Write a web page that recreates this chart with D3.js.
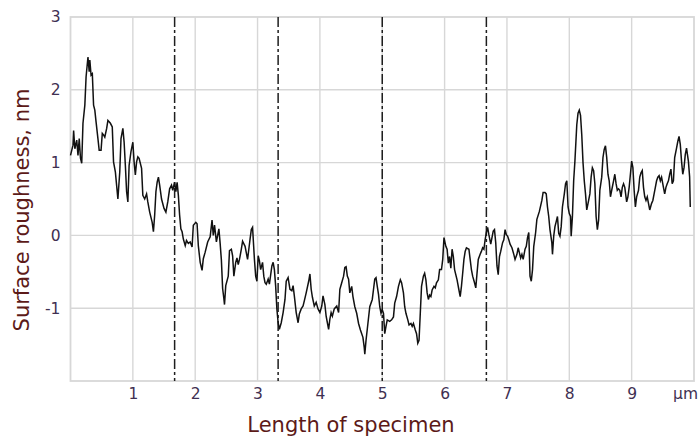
<!DOCTYPE html>
<html>
<head>
<meta charset="utf-8">
<script src="https://cdn.jsdelivr.net/npm/d3@7/dist/d3.min.js"></script>
<style>
  html, body { margin: 0; padding: 0; background: #fff; }
  svg { display: block; }
  text { font-family: "DejaVu Sans", Verdana, sans-serif; }
</style>
</head>
<body>
<svg id="chart" width="700" height="442"></svg>
<script>
// Profile position along the specimen, μm
const positions = [
  0.00,0.04,0.05,0.07,0.10,0.12,0.14,0.16,0.18,0.20,0.23,0.25,0.28,0.30,0.31,0.33,0.35,0.37,0.39,0.41,
  0.44,0.46,0.49,0.51,0.53,0.55,0.58,0.60,0.64,0.67,0.69,0.72,0.76,0.79,0.81,0.84,0.86,0.88,0.90,0.92,
  0.94,0.97,1.00,1.02,1.04,1.06,1.08,1.10,1.14,1.16,1.19,1.22,1.24,1.27,1.31,1.33,1.35,1.37,1.39,1.41,
  1.43,1.46,1.50,1.53,1.56,1.59,1.62,1.64,1.67,1.69,1.71,1.73,1.75,1.77,1.79,1.81,1.84,1.86,1.89,1.92,
  1.95,1.97,2.01,2.03,2.05,2.08,2.11,2.13,2.16,2.20,2.24,2.27,2.29,2.31,2.34,2.38,2.40,2.42,2.44,2.46,
  2.47,2.49,2.53,2.55,2.58,2.60,2.62,2.65,2.67,2.69,2.71,2.74,2.76,2.80,2.82,2.84,2.86,2.88,2.90,2.92,
  2.95,2.97,2.99,3.01,3.03,3.05,3.08,3.10,3.12,3.14,3.17,3.19,3.23,3.25,3.27,3.29,3.31,3.33,3.35,3.38,
  3.41,3.44,3.46,3.49,3.52,3.55,3.57,3.59,3.62,3.65,3.67,3.70,3.73,3.75,3.78,3.82,3.84,3.86,3.88,3.91,
  3.94,3.97,4.00,4.03,4.05,4.08,4.10,4.12,4.14,4.16,4.18,4.20,4.23,4.27,4.30,4.32,4.35,4.38,4.40,4.42,
  4.44,4.46,4.48,4.51,4.53,4.56,4.59,4.62,4.65,4.69,4.71,4.72,4.74,4.77,4.80,4.84,4.86,4.88,4.90,4.92,
  4.94,4.96,4.98,5.00,5.02,5.04,5.06,5.08,5.12,5.15,5.18,5.20,5.23,5.26,5.29,5.31,5.34,5.36,5.38,5.41,
  5.43,5.46,5.48,5.50,5.53,5.55,5.57,5.59,5.61,5.63,5.66,5.68,5.70,5.72,5.74,5.76,5.78,5.80,5.83,5.85,
  5.87,5.90,5.92,5.95,5.97,5.99,6.02,6.04,6.06,6.08,6.10,6.12,6.14,6.16,6.20,6.23,6.25,6.27,6.29,6.31,
  6.33,6.35,6.39,6.41,6.43,6.45,6.48,6.50,6.52,6.54,6.57,6.59,6.61,6.63,6.65,6.67,6.69,6.71,6.74,6.76,
  6.78,6.80,6.82,6.84,6.86,6.88,6.90,6.93,6.95,6.97,6.99,7.01,7.03,7.05,7.08,7.11,7.13,7.16,7.18,7.20,
  7.22,7.24,7.26,7.29,7.31,7.33,7.35,7.37,7.39,7.41,7.43,7.46,7.48,7.52,7.56,7.58,7.61,7.63,7.65,7.67,
  7.69,7.72,7.73,7.75,7.77,7.79,7.81,7.83,7.85,7.87,7.89,7.92,7.94,7.96,7.98,8.00,8.02,8.03,8.05,8.07,
  8.09,8.12,8.14,8.16,8.18,8.20,8.22,8.24,8.26,8.28,8.31,8.33,8.35,8.37,8.39,8.41,8.43,8.45,8.47,8.49,
  8.52,8.54,8.56,8.58,8.60,8.62,8.64,8.66,8.68,8.71,8.73,8.75,8.77,8.79,8.81,8.83,8.85,8.87,8.89,8.92,
  8.94,8.96,8.98,9.00,9.02,9.04,9.06,9.08,9.11,9.13,9.15,9.17,9.19,9.21,9.23,9.25,9.27,9.29,9.32,9.34,
  9.36,9.38,9.40,9.42,9.44,9.46,9.48,9.51,9.53,9.55,9.57,9.59,9.61,9.63,9.65,9.67,9.69,9.72,9.74,9.76,
  9.78,9.80,9.82,9.84,9.86,9.88,9.91,9.93,9.94
];

// Measured surface height at each position, nm
const roughness = [
  1.10,1.24,1.44,1.19,1.31,1.10,1.33,1.06,0.99,1.54,1.79,2.18,2.45,2.25,2.41,2.20,2.22,1.79,1.72,1.56,
  1.33,1.17,1.17,1.40,1.38,1.35,1.47,1.58,1.54,1.49,1.01,0.87,0.50,0.87,1.33,1.47,1.28,0.96,0.60,0.46,
  0.96,1.15,1.28,1.01,0.83,1.01,1.08,1.06,0.92,0.55,0.50,0.57,0.46,0.32,0.18,0.05,0.28,0.60,0.73,0.80,
  0.69,0.50,0.37,0.32,0.46,0.64,0.69,0.62,0.73,0.60,0.73,0.55,0.28,0.09,0.05,-0.05,-0.14,-0.07,-0.11,-0.09,
  -0.16,0.14,0.18,0.16,-0.14,-0.37,-0.48,-0.32,-0.23,-0.09,-0.02,0.21,0.00,0.14,-0.09,0.09,-0.11,-0.34,-0.73,-0.87,
  -0.95,-0.69,-0.56,-0.21,-0.19,-0.28,-0.56,-0.37,-0.31,-0.40,-0.33,-0.19,-0.08,-0.15,-0.24,-0.33,-0.19,-0.05,0.08,0.11,
  -0.33,-0.56,-0.63,-0.28,-0.35,-0.47,-0.37,-0.56,-0.65,-0.67,-0.60,-0.67,-0.42,-0.37,-0.47,-0.69,-1.01,-1.20,-1.29,-1.20,
  -1.06,-0.88,-0.63,-0.58,-0.74,-0.76,-0.69,-0.83,-1.06,-1.20,-1.08,-1.01,-0.97,-0.90,-0.79,-0.63,-0.53,-0.74,-0.85,-0.97,
  -0.92,-1.01,-1.06,-0.97,-0.83,-0.95,-1.11,-1.20,-1.29,-1.15,-1.06,-1.11,-1.01,-0.97,-1.06,-0.74,-0.65,-0.56,-0.44,-0.43,
  -0.56,-0.60,-0.79,-0.70,-0.84,-0.98,-1.07,-1.21,-1.30,-1.40,-1.53,-1.63,-1.44,-1.21,-0.98,-0.88,-0.74,-0.60,-0.58,-0.70,
  -0.81,-0.98,-1.07,-1.02,-1.07,-1.35,-1.25,-1.16,-1.18,-1.16,-1.12,-0.93,-0.84,-0.70,-0.61,-0.65,-0.79,-0.98,-1.07,-1.16,
  -1.23,-1.21,-1.25,-1.21,-1.30,-1.35,-1.48,-1.44,-1.07,-0.70,-0.56,-0.52,-0.61,-0.79,-0.88,-0.82,-0.84,-0.75,-0.70,-0.72,
  -0.65,-0.61,-0.47,-0.47,-0.33,-0.03,-0.15,-0.19,-0.38,-0.29,-0.45,-0.19,-0.29,-0.47,-0.61,-0.75,-0.84,-0.70,-0.52,-0.33,
  -0.22,-0.17,-0.19,-0.33,-0.47,-0.56,-0.65,-0.72,-0.52,-0.33,-0.26,-0.22,-0.17,-0.19,-0.06,0.04,0.11,0.01,-0.12,-0.03,
  0.06,0.08,-0.10,-0.42,-0.54,-0.29,-0.22,-0.10,-0.06,0.08,0.01,-0.01,-0.06,-0.12,-0.17,-0.26,-0.33,-0.26,-0.17,-0.24,
  -0.31,-0.26,-0.33,-0.19,-0.15,-0.03,0.04,-0.56,-0.63,-0.47,-0.15,0.04,0.22,0.33,0.48,0.59,0.59,0.57,0.39,0.26,
  0.08,-0.10,-0.26,-0.01,0.12,0.19,0.26,0.03,-0.01,0.12,0.39,0.57,0.71,0.75,0.39,0.30,0.26,-0.01,0.26,0.75,
  1.02,1.52,1.68,1.72,1.65,1.38,1.00,0.75,0.57,0.35,0.48,0.57,0.80,0.93,0.89,0.71,0.26,0.08,0.21,0.62,
  0.80,1.07,1.18,1.23,1.07,0.84,0.75,0.53,0.62,0.75,0.84,0.71,0.62,0.64,0.62,0.53,0.66,0.71,0.66,0.46,
  0.53,0.66,0.84,1.02,0.93,0.62,0.39,0.53,0.62,0.80,0.86,0.89,0.66,0.53,0.48,0.53,0.44,0.35,0.44,0.48,
  0.57,0.66,0.75,0.80,0.82,0.75,0.80,0.66,0.57,0.66,0.71,0.75,0.84,0.91,0.71,0.75,1.07,1.20,1.29,1.36,
  1.25,1.02,0.84,0.93,1.11,1.20,1.02,0.80,0.39
];

const xTickValues = [1, 2, 3, 4, 5, 6, 7, 8, 9];
const yTickValues = [-1, 0, 1, 2, 3];
const sectionBounds = [1.67, 3.33, 5.0, 6.67];
const xUnit = "μm";
const xTitle = "Length of specimen";
const yTitle = "Surface roughness, nm";

const svg = d3.select("#chart");
const plot = { left: 70.5, right: 694, top: 17, bottom: 381 };

const x = d3.scaleLinear().domain([0, 10]).range([plot.left, plot.right]);
const y = d3.scaleLinear().domain([-2, 3]).range([plot.bottom, plot.top]);

const gridColor = "#d7d7d7";
const tickColor = "#3f3052";
const titleColor = "#5c1a18";

// grid
const grid = svg.append("g");
grid.selectAll("line.vx").data(xTickValues).join("line")
  .attr("x1", d => x(d)).attr("x2", d => x(d))
  .attr("y1", plot.top).attr("y2", plot.bottom)
  .attr("stroke", gridColor).attr("stroke-width", 1.4);
grid.selectAll("line.hy").data(yTickValues.filter(v => v < 3)).join("line")
  .attr("x1", plot.left).attr("x2", plot.right)
  .attr("y1", d => y(d)).attr("y2", d => y(d))
  .attr("stroke", gridColor).attr("stroke-width", 1.4);
grid.append("rect")
  .attr("x", plot.left).attr("y", plot.top)
  .attr("width", plot.right - plot.left).attr("height", plot.bottom - plot.top)
  .attr("fill", "none").attr("stroke", gridColor).attr("stroke-width", 1.8);

// section boundaries (dash-dot)
svg.append("g").selectAll("line").data(sectionBounds).join("line")
  .attr("x1", d => x(d)).attr("x2", d => x(d))
  .attr("y1", plot.top).attr("y2", plot.bottom)
  .attr("stroke", "#1e1e1e").attr("stroke-width", 1.5)
  .attr("stroke-dasharray", "10,3,3,3");

// profile trace
const profile = positions.map((p, i) => [p, roughness[i]]);
svg.append("path")
  .datum(profile)
  .attr("fill", "none")
  .attr("stroke", "#111")
  .attr("stroke-width", 1.5)
  .attr("stroke-linejoin", "miter")
  .attr("d", d3.line().x(d => x(d[0])).y(d => y(d[1])));

// axes (labels only, no domain or tick marks)
const xAxis = svg.append("g")
  .attr("transform", `translate(0,${plot.bottom})`)
  .call(d3.axisBottom(x).tickValues(xTickValues).tickSize(0).tickPadding(18).tickFormat(d3.format("d")));
const yAxis = svg.append("g")
  .attr("transform", `translate(${plot.left},0)`)
  .call(d3.axisLeft(y).tickValues(yTickValues).tickSize(0).tickPadding(10).tickFormat(d => d < 0 ? "-" + Math.abs(d) : String(d)));
[xAxis, yAxis].forEach(g => {
  g.select(".domain").remove();
  g.selectAll("text")
    .attr("fill", tickColor)
    .style("font-family", "'DejaVu Sans', Verdana, sans-serif")
    .style("font-size", "15.5px");
});
xAxis.selectAll("text").attr("dy", null).attr("y", 18);

svg.append("text")
  .attr("x", 698).attr("y", 399)
  .attr("text-anchor", "end")
  .attr("fill", tickColor)
  .style("font-size", "15.5px")
  .text(xUnit);

// titles
svg.append("text")
  .attr("x", 351).attr("y", 432)
  .attr("text-anchor", "middle")
  .attr("fill", titleColor)
  .style("font-size", "21px")
  .text(xTitle);

svg.append("text")
  .attr("transform", "translate(28.5,210) rotate(-90)")
  .attr("text-anchor", "middle")
  .attr("fill", titleColor)
  .style("font-size", "21px")
  .text(yTitle);
</script>
</body>
</html>
